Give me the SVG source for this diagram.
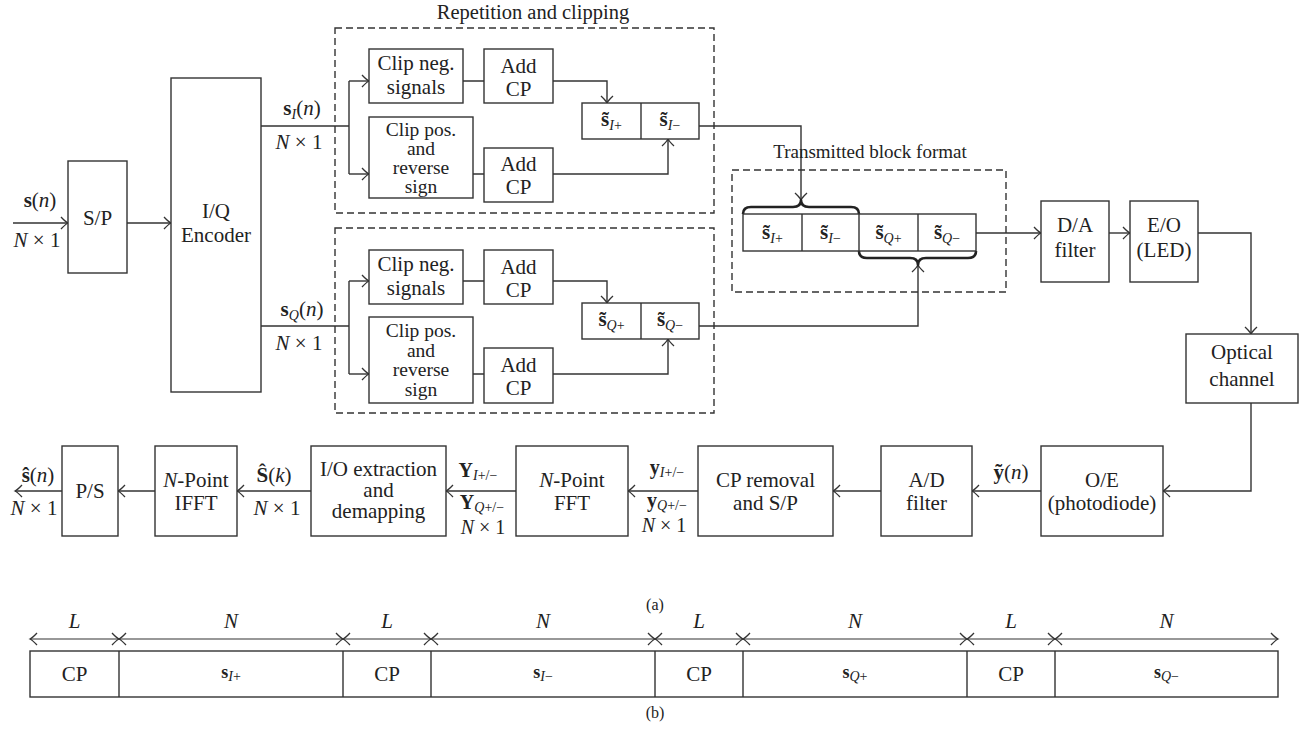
<svg xmlns="http://www.w3.org/2000/svg" width="1310" height="729" viewBox="0 0 1310 729">
<style>
.box{fill:#fff;stroke:#333;stroke-width:1.4}
.dash{fill:none;stroke:#333;stroke-width:1.4;stroke-dasharray:7 4}
.ln{fill:none;stroke:#333;stroke-width:1.4}
.ar{fill:none;stroke:#333;stroke-width:1.4;marker-end:url(#ah)}
.dbl{fill:none;stroke:#333;stroke-width:1.2;marker-end:url(#ah);marker-start:url(#ah)}
.brace{fill:none;stroke:#222;stroke-width:2.6;stroke-linejoin:round}
text{font-family:"Liberation Serif","Times New Roman",serif;font-size:21px;fill:#222}
.t{text-anchor:middle}
.b{font-weight:bold}
.i{font-style:italic}
.sub{font-size:14px}
.sm{font-size:20px}
.cp4{font-size:19.5px}
.cap{font-size:16px}
.ttl{font-size:20.5px}
.ttl2{font-size:19px}
</style>
<defs>
<marker id="ah" viewBox="-10 -8 12 16" refX="0" refY="0" markerWidth="12" markerHeight="16" markerUnits="userSpaceOnUse" orient="auto-start-reverse">
<path d="M-7,-6 Q-2.5,-1.2 0,0 Q-2.5,1.2 -7,6" fill="none" stroke="#333" stroke-width="1.3"/>
</marker>
</defs>

<g id="connectors">
<path class="ar" d="M13,223 H68"/>
<path class="ar" d="M127,223 H171"/>
<path class="ln" d="M261,126 H349 M349,81 V174 M463,81 H484 M473,174 H484"/>
<path class="ar" d="M349,81 H369"/>
<path class="ar" d="M349,174 H369"/>
<path class="ar" d="M553,81 H607 V103"/>
<path class="ar" d="M553,174 H668 V139"/>
<path class="ar" d="M699,126 H801 V200"/>
<path class="ln" d="M261,326 H349 M349,281 V374 M463,281 H484 M473,374 H484"/>
<path class="ar" d="M349,281 H369"/>
<path class="ar" d="M349,374 H369"/>
<path class="ar" d="M553,281 H607 V303"/>
<path class="ar" d="M553,374 H668 V339"/>
<path class="ar" d="M699,326 H918 V265"/>
<path class="ar" d="M976,233 H1041"/>
<path class="ar" d="M1109,233 H1130"/>
<path class="ar" d="M1198,233 H1251 V334"/>
<path class="ar" d="M1251,403 V491 H1163"/>
<path class="ar" d="M1041,491 H972"/>
<path class="ar" d="M881,491 H833"/>
<path class="ar" d="M698,491 H628"/>
<path class="ar" d="M516,491 H446"/>
<path class="ar" d="M311,491 H237"/>
<path class="ar" d="M155,491 H118"/>
<path class="ar" d="M62,491 H15"/>
<path class="brace" d="M743,214 Q743,207 751,207 H793 Q801,207 801,200 Q801,207 809,207 H851 Q859,207 859,214"/>
<path class="brace" d="M859,251 Q859,258 867,258 H910 Q918,258 918,265 Q918,258 926,258 H968 Q976,258 976,251"/>
</g>

<g id="lbl-in">
<text class="t" x="40" y="207"><tspan class="b">s</tspan>(<tspan class="i">n</tspan>)</text>
<text class="t" x="37" y="247"><tspan class="i">N</tspan> × 1</text>
</g>

<g id="sp"><rect class="box" x="68" y="161" width="59" height="112"/><text class="t" x="97.5" y="225">S/P</text></g>

<g id="encoder"><rect class="box" x="171" y="78" width="90" height="314"/>
<text class="t" x="216" y="218">I/Q</text><text class="t" x="216" y="242">Encoder</text></g>

<g id="lbl-sI">
<text class="t" x="302" y="115"><tspan class="b">s</tspan><tspan class="sub i" dy="4">I</tspan><tspan dy="-4">(</tspan><tspan class="i">n</tspan>)</text>
<text class="t" x="299" y="149"><tspan class="i">N</tspan> × 1</text>
</g>
<g id="lbl-sQ">
<text class="t" x="302" y="316"><tspan class="b">s</tspan><tspan class="sub i" dy="4">Q</tspan><tspan dy="-4">(</tspan><tspan class="i">n</tspan>)</text>
<text class="t" x="299" y="350"><tspan class="i">N</tspan> × 1</text>
</g>

<g id="rep-I">
<rect class="dash" x="335" y="28" width="379" height="185"/>
<text class="t ttl" x="533" y="19">Repetition and clipping</text>
</g>
<g id="clipneg-I"><rect class="box" x="369" y="49" width="94" height="54"/>
<text class="t" x="416" y="70">Clip neg.</text><text class="t" x="416" y="94">signals</text></g>
<g id="addcp1-I"><rect class="box" x="484" y="49" width="69" height="54"/>
<text class="t" x="518.5" y="73">Add</text><text class="t" x="518.5" y="96">CP</text></g>
<g id="clippos-I"><rect class="box" x="369" y="117" width="104" height="81"/>
<text class="t cp4" x="421" y="136">Clip pos.</text><text class="t cp4" x="421" y="155">and</text><text class="t cp4" x="421" y="174">reverse</text><text class="t cp4" x="421" y="192.5">sign</text></g>
<g id="addcp2-I"><rect class="box" x="484" y="148" width="69" height="54"/>
<text class="t" x="518.5" y="171">Add</text><text class="t" x="518.5" y="194">CP</text></g>
<g id="stilde-I"><rect class="box" x="582" y="103" width="117" height="36"/><path class="ln" d="M641,103 V139"/>
<text class="t" x="611.5" y="126"><tspan class="b">s&#x303;</tspan><tspan class="sub i" dy="4">I</tspan><tspan class="sub">+</tspan></text>
<text class="t" x="670" y="126"><tspan class="b">s&#x303;</tspan><tspan class="sub i" dy="4">I</tspan><tspan class="sub">−</tspan></text></g>

<g id="rep-Q"><rect class="dash" x="335" y="228" width="379" height="185"/></g>
<g id="clipneg-Q"><rect class="box" x="369" y="250" width="94" height="54"/>
<text class="t" x="416" y="271">Clip neg.</text><text class="t" x="416" y="295">signals</text></g>
<g id="addcp1-Q"><rect class="box" x="484" y="250" width="69" height="54"/>
<text class="t" x="518.5" y="274">Add</text><text class="t" x="518.5" y="297">CP</text></g>
<g id="clippos-Q"><rect class="box" x="369" y="317" width="104" height="86"/>
<text class="t cp4" x="421" y="337">Clip pos.</text><text class="t cp4" x="421" y="356.5">and</text><text class="t cp4" x="421" y="376">reverse</text><text class="t cp4" x="421" y="395.5">sign</text></g>
<g id="addcp2-Q"><rect class="box" x="484" y="348" width="69" height="55"/>
<text class="t" x="518.5" y="372">Add</text><text class="t" x="518.5" y="395">CP</text></g>
<g id="stilde-Q"><rect class="box" x="582" y="303" width="117" height="36"/><path class="ln" d="M641,303 V339"/>
<text class="t" x="611.5" y="326"><tspan class="b">s&#x303;</tspan><tspan class="sub i" dy="4">Q</tspan><tspan class="sub">+</tspan></text>
<text class="t" x="670" y="326"><tspan class="b">s&#x303;</tspan><tspan class="sub i" dy="4">Q</tspan><tspan class="sub">−</tspan></text></g>

<g id="tx-block">
<rect class="dash" x="732" y="170" width="274" height="122"/>
<text class="t ttl2" x="870" y="158">Transmitted block format</text>
<rect class="box" x="743" y="214" width="233" height="37"/>
<path class="ln" d="M802,214 V251 M859,214 V251 M918,214 V251"/>
<text class="t" x="772.5" y="239"><tspan class="b">s&#x303;</tspan><tspan class="sub i" dy="4">I</tspan><tspan class="sub">+</tspan></text>
<text class="t" x="830.5" y="239"><tspan class="b">s&#x303;</tspan><tspan class="sub i" dy="4">I</tspan><tspan class="sub">−</tspan></text>
<text class="t" x="888.5" y="239"><tspan class="b">s&#x303;</tspan><tspan class="sub i" dy="4">Q</tspan><tspan class="sub">+</tspan></text>
<text class="t" x="947" y="239"><tspan class="b">s&#x303;</tspan><tspan class="sub i" dy="4">Q</tspan><tspan class="sub">−</tspan></text>
</g>

<g id="da"><rect class="box" x="1041" y="201" width="68" height="81"/>
<text class="t" x="1075" y="232">D/A</text><text class="t" x="1075" y="257">filter</text></g>
<g id="eo"><rect class="box" x="1130" y="201" width="68" height="81"/>
<text class="t" x="1164" y="232">E/O</text><text class="t" x="1164" y="257">(LED)</text></g>
<g id="optical"><rect class="box" x="1186" y="334" width="112" height="69"/>
<text class="t" x="1242" y="359">Optical</text><text class="t" x="1242" y="386">channel</text></g>

<g id="oe"><rect class="box" x="1041" y="446" width="122" height="90"/>
<text class="t" x="1102" y="487">O/E</text><text class="t" x="1102" y="510">(photodiode)</text></g>
<g id="ad"><rect class="box" x="881" y="446" width="91" height="90"/>
<text class="t" x="926.5" y="487">A/D</text><text class="t" x="926.5" y="510">filter</text></g>
<g id="cprem"><rect class="box" x="698" y="446" width="135" height="90"/>
<text class="t" x="765.5" y="487">CP removal</text><text class="t" x="765.5" y="510">and S/P</text></g>
<g id="fft"><rect class="box" x="516" y="446" width="112" height="90"/>
<text class="t" x="572" y="487"><tspan class="i">N</tspan>-Point</text><text class="t" x="572" y="510">FFT</text></g>
<g id="iox"><rect class="box" x="311" y="446" width="135" height="90"/>
<text class="t" x="378.5" y="476">I/O extraction</text><text class="t" x="378.5" y="497">and</text><text class="t" x="378.5" y="518">demapping</text></g>
<g id="ifft"><rect class="box" x="155" y="446" width="82" height="90"/>
<text class="t" x="196" y="487"><tspan class="i">N</tspan>-Point</text><text class="t" x="196" y="510">IFFT</text></g>
<g id="ps"><rect class="box" x="62" y="446" width="56" height="90"/>
<text class="t" x="90" y="498">P/S</text></g>

<g id="lbl-bottom">
<text class="t" x="1011" y="479"><tspan class="b">ỹ</tspan>(<tspan class="i">n</tspan>)</text>
<text class="t sm" x="667" y="474"><tspan class="b">y</tspan><tspan class="sub i" dy="3">I</tspan><tspan class="sub">+/−</tspan></text>
<text class="t sm" x="667" y="507"><tspan class="b">y</tspan><tspan class="sub i" dy="3">Q</tspan><tspan class="sub">+/−</tspan></text>
<text class="t sm" x="664" y="532"><tspan class="i">N</tspan> × 1</text>
<text class="t sm" x="478" y="477"><tspan class="b">Y</tspan><tspan class="sub i" dy="3">I</tspan><tspan class="sub">+/−</tspan></text>
<text class="t sm" x="482" y="509"><tspan class="b">Y</tspan><tspan class="sub i" dy="3">Q</tspan><tspan class="sub">+/−</tspan></text>
<text class="t sm" x="483" y="534"><tspan class="i">N</tspan> × 1</text>
<text class="t" x="274" y="482"><tspan class="b">Ŝ</tspan>(<tspan class="i">k</tspan>)</text>
<text class="t" x="277" y="515"><tspan class="i">N</tspan> × 1</text>
<text class="t" x="38" y="482"><tspan class="b">ŝ</tspan>(<tspan class="i">n</tspan>)</text>
<text class="t" x="34" y="515"><tspan class="i">N</tspan> × 1</text>
</g>

<text class="t cap" x="655" y="610">(a)</text>

<g id="frame-b">
<rect class="box" x="30" y="651" width="1248" height="46"/>
<path class="ln" d="M119,651 V697 M343,651 V697 M431,651 V697 M655,651 V697 M743,651 V697 M967,651 V697 M1055,651 V697"/>
<path class="dbl" d="M30,639 H119"/>
<path class="dbl" d="M119,639 H343"/>
<path class="dbl" d="M343,639 H431"/>
<path class="dbl" d="M431,639 H655"/>
<path class="dbl" d="M655,639 H743"/>
<path class="dbl" d="M743,639 H967"/>
<path class="dbl" d="M967,639 H1055"/>
<path class="dbl" d="M1055,639 H1278"/>
<text class="t i" x="74.5" y="628">L</text>
<text class="t i" x="231" y="628">N</text>
<text class="t i" x="387" y="628">L</text>
<text class="t i" x="543" y="628">N</text>
<text class="t i" x="699" y="628">L</text>
<text class="t i" x="855" y="628">N</text>
<text class="t i" x="1011" y="628">L</text>
<text class="t i" x="1166.5" y="628">N</text>
<text class="t" x="74.5" y="681">CP</text>
<text class="t" x="387" y="681">CP</text>
<text class="t" x="699" y="681">CP</text>
<text class="t" x="1011" y="681">CP</text>
<text class="t" x="231" y="678"><tspan class="b" font-size="18">s</tspan><tspan class="sub i" dy="3">I</tspan><tspan class="sub">+</tspan></text>
<text class="t" x="543" y="678"><tspan class="b" font-size="18">s</tspan><tspan class="sub i" dy="3">I</tspan><tspan class="sub">−</tspan></text>
<text class="t" x="855" y="678"><tspan class="b" font-size="18">s</tspan><tspan class="sub i" dy="3">Q</tspan><tspan class="sub">+</tspan></text>
<text class="t" x="1166.5" y="678"><tspan class="b" font-size="18">s</tspan><tspan class="sub i" dy="3">Q</tspan><tspan class="sub">−</tspan></text>
</g>
<text class="t cap" x="655" y="718">(b)</text>
</svg>
